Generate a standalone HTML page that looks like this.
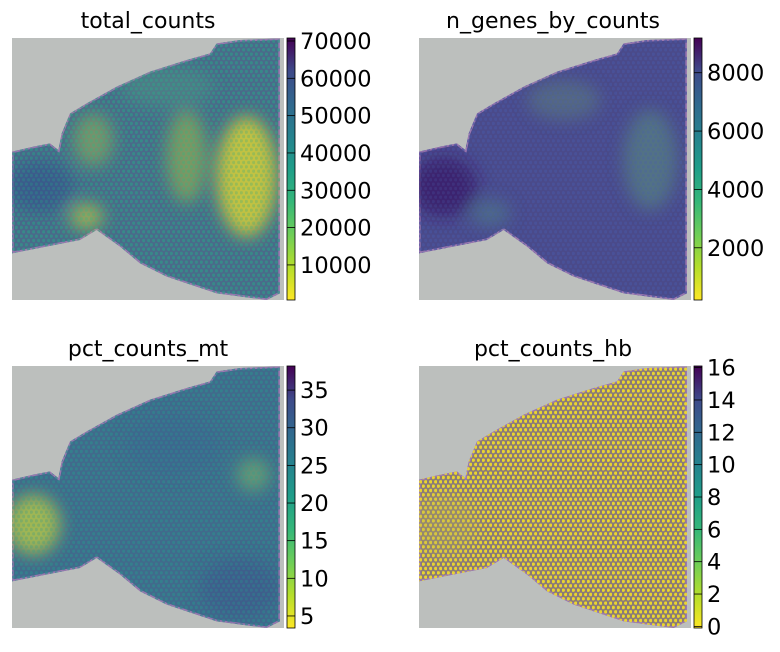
<!DOCTYPE html>
<html><head><meta charset="utf-8">
<style>
body{margin:0;background:#fff;width:780px;height:652px;overflow:hidden;font-family:"DejaVu Sans","Liberation Sans",sans-serif}
svg{display:block}
</style></head>
<body>
<svg id="fig" width="780" height="652" viewBox="0 0 780 652" xmlns="http://www.w3.org/2000/svg">
<defs>
<linearGradient id="vir" x1="0" y1="1" x2="0" y2="0">
<stop offset="0" stop-color="#fde725"/><stop offset="0.125" stop-color="#b5de2b"/>
<stop offset="0.25" stop-color="#6ece58"/><stop offset="0.375" stop-color="#35b779"/>
<stop offset="0.5" stop-color="#1f9e89"/><stop offset="0.625" stop-color="#26828e"/>
<stop offset="0.75" stop-color="#31688e"/><stop offset="0.875" stop-color="#3e4989"/>
<stop offset="1" stop-color="#440154"/>
</linearGradient>
<filter id="blur" x="-50%" y="-50%" width="200%" height="200%"><feGaussianBlur stdDeviation="25"/></filter>
</defs>
</svg>
<script>
const titles = ["total_counts","n_genes_by_counts","pct_counts_mt","pct_counts_hb"];
const vmin = [600, 210, 3.4, -0.1];
const vmax = [70800, 9190, 38.2, 16.1];
const ticks0 = [10000,20000,30000,40000,50000,60000,70000];
const ticks1 = [2000,4000,6000,8000];
const ticks2 = [5,10,15,20,25,30,35];
const ticks3 = [0,2,4,6,8,10,12,14,16];
const allTicks = [ticks0,ticks1,ticks2,ticks3];
const baseCol = ["#4a6a8a","#4a4a8a","#416a8c","#8a7a78"];
const dotCol = ["#2f9a8a","#4a55a0","#2f8a8e","#f0dc2a"];
const dotOp = [0.55,0.55,0.55,0.9];
const regions = [
 [[740,530,90,180,"#e0d830",0.8],[560,470,60,140,"#b8d038",0.45],[120,560,100,80,"#34558c",0.7],[280,420,60,80,"#b8d040",0.4],[260,650,50,40,"#d0d838",0.6],[500,260,140,60,"#55a080",0.35]],
 [[110,560,100,90,"#3a1668",0.8],[730,480,80,150,"#5a9a80",0.5],[470,300,110,60,"#6aa870",0.3],[250,640,60,40,"#4f8a8a",0.5]],
 [[100,590,80,90,"#c0d040",0.75],[760,440,50,50,"#8cc860",0.5],[520,350,140,90,"#3a6590",0.4],[720,780,120,90,"#3c4f8c",0.45]],
 [[110,590,100,90,"#a8a060",0.4]]
];
const tissue = "36,455 100,440 150,430 175,450 185,400 210,340 260,310 350,260 450,215 560,180 630,160 650,130 720,120 840,115 840,880 800,900 650,880 560,850 500,830 420,790 360,740 290,690 240,720 36,760";
const ns="http://www.w3.org/2000/svg";
const fig=document.getElementById('fig');
const defs=fig.querySelector('defs');
function mk(t,a,p){const e=document.createElementNS(ns,t);for(const k in a)e.setAttribute(k,a[k]);(p||fig).appendChild(e);return e;}
const cols=[12,419], rows=[38,366], W=272, H=262;
for(let i=0;i<4;i++){
  const x0=cols[i%2], y0=rows[Math.floor(i/2)];
  const g=mk('g',{transform:`translate(${x0},${y0})`});
  
  
  const t=mk('text',{x:W/2+(i%2?-2:0),y:-10,'text-anchor':'middle','font-size':22,fill:'#000'},g);
  t.textContent=titles[i];
  
  
  const img=mk('svg',{x:0,y:0,width:W,height:H,viewBox:"36 114 816 786",preserveAspectRatio:"none"},g);
  
  
  mk('rect',{x:36,y:114,width:816,height:786,fill:'#bcbfbd'},img);
  const cp=mk('clipPath',{id:'cp'+i},defs);
  mk('polygon',{points:tissue},cp);
  const pat=mk('pattern',{id:'pt'+i,width:15,height:26,patternUnits:'userSpaceOnUse'},defs);
  mk('circle',{cx:3.75,cy:6.5,r:5,fill:dotCol[i]},pat);
  mk('circle',{cx:11.25,cy:19.5,r:5,fill:dotCol[i]},pat);
  const tg=mk('g',{'clip-path':`url(#cp${i})`},img);
  
  
  mk('polygon',{points:tissue,fill:baseCol[i],stroke:'#9a78b0','stroke-width':10},tg);
  mk('rect',{x:36,y:114,width:816,height:786,fill:`url(#pt${i})`,opacity:dotOp[i]},tg);
  const rg=mk('g',{filter:'url(#blur)'},tg);
  regions[i].forEach(r=>{mk('ellipse',{cx:r[0],cy:r[1],rx:r[2],ry:r[3],fill:r[4],opacity:r[5]},rg);});
  mk('rect',{x:36,y:114,width:816,height:786,fill:`url(#pt${i})`,opacity:0.25},tg);
  const cbx=W+3, cbw=8;
  const cb=mk('g',{},g);
  
  
  mk('rect',{x:cbx,y:0,width:cbw,height:H,fill:'url(#vir)',stroke:'#000','stroke-width':0.8},cb);
  const yv=v=>H-(v-vmin[i])/(vmax[i]-vmin[i])*H;
  allTicks[i].forEach(v=>{
    const y=yv(v);
    mk('line',{x1:cbx,x2:cbx+cbw,y1:y,y2:y,stroke:'#000','stroke-width':0.8},cb);
    const tl=mk('text',{x:cbx+cbw+5,y:y+8,'font-size':22.5,fill:'#000'},cb);
    tl.textContent=v;
    
    
  });
}
</script>
</body></html>
